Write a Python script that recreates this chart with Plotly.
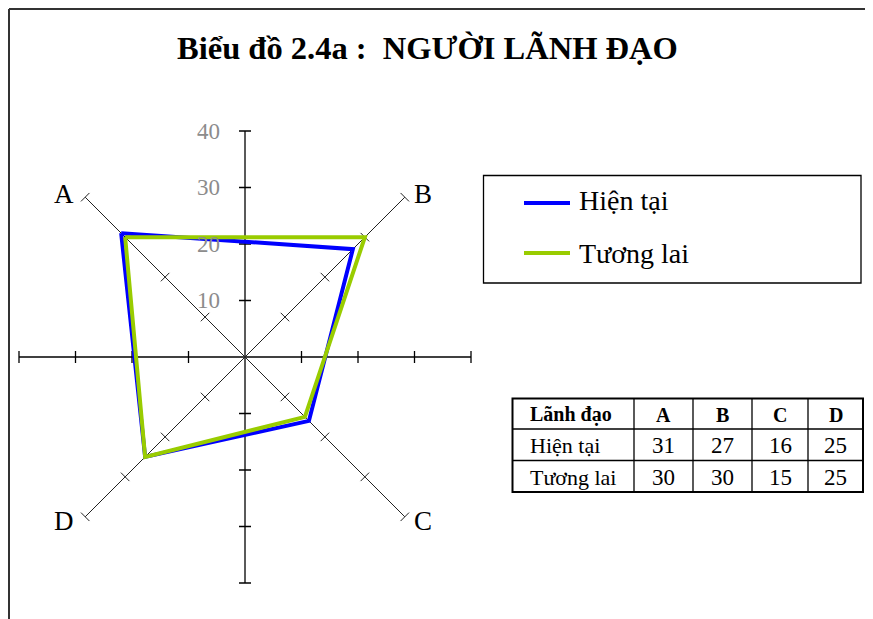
import math
import plotly.graph_objects as go

# ---------------- data ----------------
categories = ["A", "B", "C", "D"]
hien_tai = [31, 27, 16, 25]
tuong_lai = [30, 30, 15, 25]
series_names = ["Hiện tại", "Tương lai"]
radial_ticks = [10, 20, 30, 40]
axis_ticks = [-40, -30, -20, -10, 10, 20, 30, 40]
table_header = ["Lãnh đạo"] + categories
title_text = "Biểu đồ 2.4a :  NGƯỜI LÃNH ĐẠO"

# ---------------- geometry helpers ----------------
W, H = 873, 619
OFF = 8                                 # page body margin
angles = [135, 45, -45, -135]          # direction of A, B, C, D
R = 40                                  # outer radius in data units
PX = 5.65                               # pixels per data unit
K = 6 / PX                              # half tick length in data units
SPAN = 41.5                             # half axis range in data units
CX, CY = 245, 357                       # centre of the chart in page pixels
FONT = "Liberation Serif, Times New Roman, serif"
BLUE = "#0000FF"
GREEN = "#99CC00"


def px(x):
    return (x - OFF) / W


def py(y):
    return 1 - (y - OFF) / H


def polar_xy(values):
    xs, ys = [], []
    for v, a in zip(values, angles):
        t = math.radians(a)
        xs.append(v * math.cos(t))
        ys.append(v * math.sin(t))
    xs.append(xs[0])
    ys.append(ys[0])
    return xs, ys


fig = go.Figure()

# horizontal / vertical axes with ticks
hx, hy = [-R, R, None], [0, 0, None]
for t in axis_ticks:
    hx += [t, t, None]
    hy += [-K, K, None]
vx, vy = [0, 0, None], [-R, R, None]
for t in axis_ticks:
    vx += [-K, K, None]
    vy += [t, t, None]
fig.add_trace(go.Scatter(x=hx + vx, y=hy + vy, mode="lines",
                         line=dict(color="black", width=1.3),
                         hoverinfo="skip", showlegend=False))

# diagonal category axes with perpendicular ticks
dx, dy = [], []
for a in angles:
    t = math.radians(a)
    c, s = math.cos(t), math.sin(t)
    dx += [0, R * c, None]
    dy += [0, R * s, None]
    for r in radial_ticks:
        x0, y0 = r * c, r * s
        dx += [x0 - K * (-s), x0 + K * (-s), None]
        dy += [y0 - K * c, y0 + K * c, None]
fig.add_trace(go.Scatter(x=dx, y=dy, mode="lines",
                         line=dict(color="#222222", width=1),
                         hoverinfo="skip", showlegend=False))

# series
for vals, name, col in [(hien_tai, series_names[0], BLUE),
                        (tuong_lai, series_names[1], GREEN)]:
    xs, ys = polar_xy(vals)
    fig.add_trace(go.Scatter(x=xs, y=ys, mode="lines", name=name,
                             line=dict(color=col, width=4),
                             showlegend=False))

annotations = []
shapes = []

# title
annotations.append(dict(text="<b>%s</b>" % title_text, xref="paper", yref="paper",
                        x=px(427), y=py(48), xanchor="center", yanchor="middle",
                        showarrow=False, font=dict(family=FONT, size=32.5, color="black")))
# category labels
shifts = [(-21, 3), (18, 3), (18, -4), (-21, -4)]
for cat, a, (sx, sy) in zip(categories, angles, shifts):
    t = math.radians(a)
    annotations.append(dict(text=cat, x=R * math.cos(t), y=R * math.sin(t),
                            xref="x", yref="y", xshift=sx, yshift=sy,
                            xanchor="center", yanchor="middle", showarrow=False,
                            font=dict(family=FONT, size=27, color="black")))
# radial tick labels
for r in radial_ticks:
    annotations.append(dict(text=str(r), x=0, y=r, xref="x", yref="y",
                            xanchor="right", yanchor="middle", xshift=-23,
                            showarrow=False,
                            font=dict(family=FONT, size=23, color="#8c8c8c")))

# legend
shapes.append(dict(type="rect", xref="paper", yref="paper", x0=px(483.5), x1=px(861),
                   y0=py(175.5), y1=py(283), line=dict(color="black", width=1.3)))
for name, col, ly, ty in zip(series_names, [BLUE, GREEN], [203, 253], [200, 254]):
    shapes.append(dict(type="line", xref="paper", yref="paper", x0=px(524), x1=px(570),
                       y0=py(ly), y1=py(ly), line=dict(color=col, width=4)))
    annotations.append(dict(text=name, xref="paper", yref="paper", x=px(577), y=py(ty),
                            xanchor="left", yanchor="middle", showarrow=False,
                            font=dict(family=FONT, size=28, color="black")))

# data table
col_edges = [512.5, 634, 693, 752, 808, 863]
row_edges = [398.5, 429, 460.5, 492]
table_rows = [table_header,
              [series_names[0]] + [str(v) for v in hien_tai],
              [series_names[1]] + [str(v) for v in tuong_lai]]
for ri, row in enumerate(table_rows):
    yc = (row_edges[ri] + row_edges[ri + 1]) / 2
    for ci, val in enumerate(row):
        if ri == 0:
            txt, size = "<b>%s</b>" % val, 20
        else:
            txt, size = val, (22 if ci == 0 else 23)
        if ci == 0:
            x, anchor = px(col_edges[0] + 15), "left"
        else:
            x, anchor = px((col_edges[ci] + col_edges[ci + 1]) / 2), "center"
        annotations.append(dict(text=txt, xref="paper", yref="paper", x=x, y=py(yc + 1),
                                xanchor=anchor, yanchor="middle", showarrow=False,
                                font=dict(family=FONT, size=size, color="black")))
for xe in col_edges[1:-1]:
    shapes.append(dict(type="line", xref="paper", yref="paper", x0=px(xe), x1=px(xe),
                       y0=py(row_edges[0]), y1=py(row_edges[-1]),
                       line=dict(color="black", width=1.3)))
for ye in row_edges[1:-1]:
    shapes.append(dict(type="line", xref="paper", yref="paper", x0=px(col_edges[0]),
                       x1=px(col_edges[-1]), y0=py(ye), y1=py(ye),
                       line=dict(color="black", width=1.3)))
shapes.append(dict(type="rect", xref="paper", yref="paper", x0=px(col_edges[0]),
                   x1=px(col_edges[-1]), y0=py(row_edges[-1]), y1=py(row_edges[0]),
                   line=dict(color="black", width=2)))

# outer frame (top and left edges of the chart area)
shapes.append(dict(type="line", xref="paper", yref="paper", x0=px(9), x1=px(881),
                   y0=py(9), y1=py(9), line=dict(color="#333333", width=2)))
shapes.append(dict(type="line", xref="paper", yref="paper", x0=px(9), x1=px(9),
                   y0=py(9), y1=py(627), line=dict(color="#333333", width=2)))

half = SPAN * PX
fig.update_layout(
    width=W, height=H,
    margin=dict(l=0, r=0, t=0, b=0),
    paper_bgcolor="white", plot_bgcolor="white",
    showlegend=False,
    xaxis=dict(range=[-SPAN, SPAN], domain=[px(CX - half), px(CX + half)],
               visible=False, fixedrange=True),
    yaxis=dict(range=[-SPAN, SPAN], domain=[py(CY + half), py(CY - half)],
               visible=False, fixedrange=True),
    annotations=annotations,
    shapes=shapes,
)

fig.write_html("out.html")
